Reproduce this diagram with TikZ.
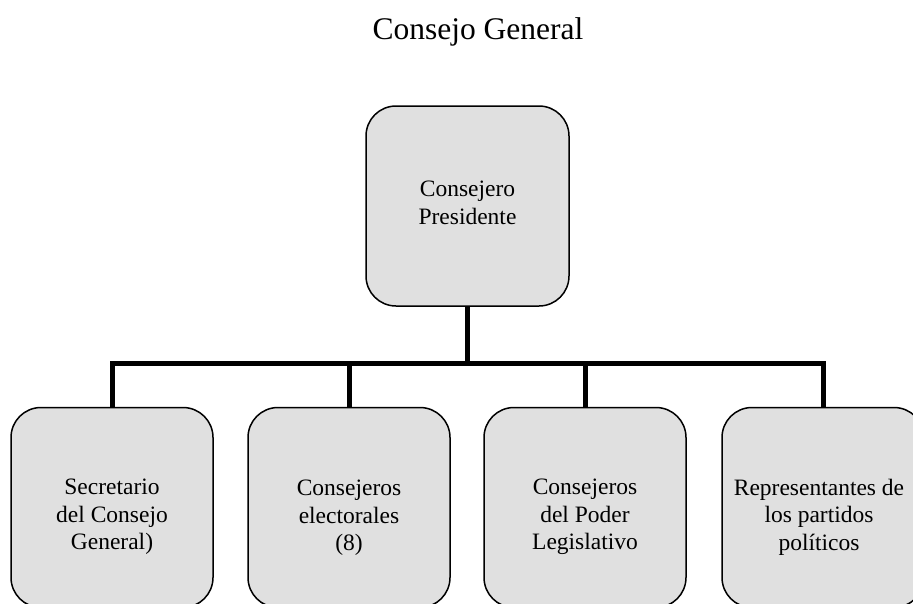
\documentclass[tikz,border=0pt]{standalone}
\usepackage{fontspec}
\setmainfont{Liberation Serif}
\definecolor{boxgray}{RGB}{224,224,224}
\begin{document}
\begin{tikzpicture}[x=1pt,y=-1pt,
  box/.style={draw=black, line width=1.5pt, fill=boxgray, rounded corners=30pt,
    minimum width=202pt, minimum height=200pt, inner sep=0pt},
  topbox/.style={box, minimum width=203pt, minimum height=200pt},
  lbl/.style={align=center, font=\fontsize{23.5}{27.5}\selectfont, inner sep=0pt},
  conn/.style={line width=5pt, line join=miter}]
\useasboundingbox (0,0) rectangle (913,603);
\node[font=\fontsize{31.5}{36}\selectfont, anchor=base, inner sep=0pt] (title) at (478,39) {Consejo General};
\node[topbox] (top) at (467.5,206) {};
\node[box] (b1) at (112,507.5) {};
\node[box] (b2) at (349,507.5) {};
\node[box] (b3) at (585,507.5) {};
\node[box] (b4) at (823,507.5) {};
\coordinate (bar) at (467.5,363.5);
\draw[conn] (b1.north) -- (b1.north |- bar) -- (b4.north |- bar) -- (b4.north);
\draw[conn] (top.south) -- (top.south |- bar);
\draw[conn] (b2.north) -- (b2.north |- bar);
\draw[conn] (b3.north) -- (b3.north |- bar);
\node[lbl] (t0) at (467.5,203) {Consejero\\Presidente};
\node[lbl] (t1) at (112,517) {Secretario\\del Consejo\\General)};
\node[lbl] (t2) at (349,518) {Consejeros\\electorales\\(8)};
\node[lbl] (t3) at (585,517) {Consejeros\\del Poder\\Legislativo};
\node[lbl] (t4) at (819,517) {Representantes de\\los partidos\\políticos};
\end{tikzpicture}
\end{document}
